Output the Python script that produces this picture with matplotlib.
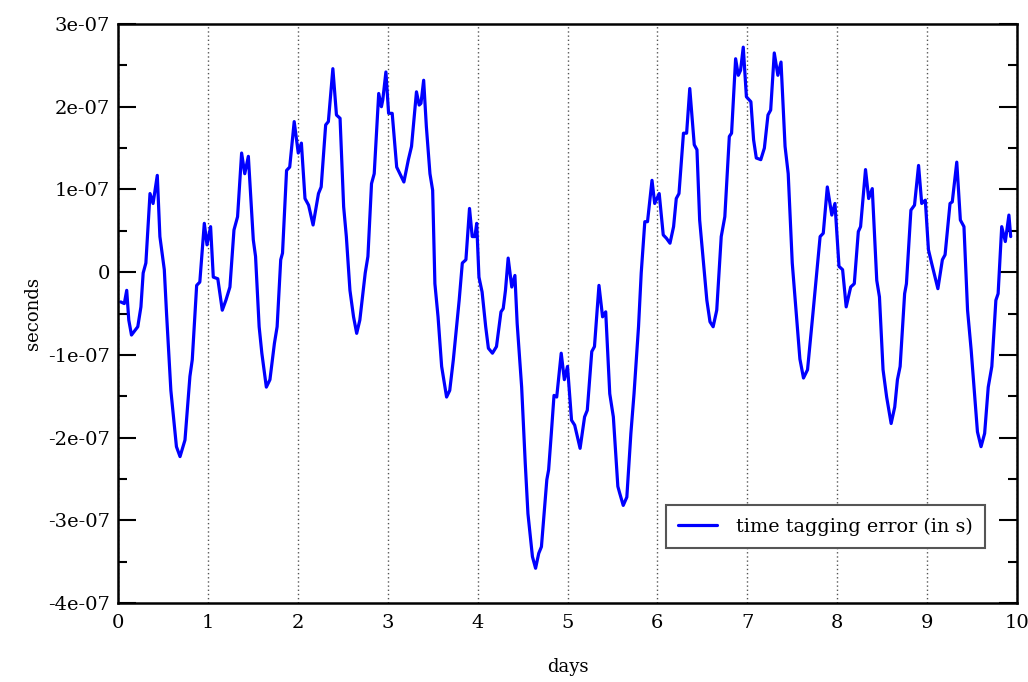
import matplotlib
matplotlib.use("Agg")
import matplotlib.pyplot as plt
from matplotlib.ticker import MultipleLocator

days = [0.03, 0.07, 0.097, 0.12, 0.15, 0.22, 0.255, 0.28, 0.31, 0.356, 0.39, 0.437, 0.466, 0.515, 0.54,
        0.588, 0.65, 0.69, 0.745, 0.80, 0.826, 0.875, 0.91, 0.96, 0.99, 1.03, 1.06, 1.11, 1.16, 1.20,
        1.245, 1.29, 1.33, 1.375, 1.41, 1.45, 1.505, 1.53, 1.57, 1.60, 1.65, 1.69, 1.74, 1.77, 1.81,
        1.83, 1.875, 1.91, 1.96, 2.005, 2.04, 2.08, 2.12, 2.17, 2.23, 2.26, 2.31, 2.34, 2.39, 2.43,
        2.47, 2.51, 2.54, 2.58, 2.62, 2.655, 2.69, 2.75, 2.78, 2.82, 2.85, 2.90, 2.93, 2.945, 2.98,
        3.01, 3.05, 3.10, 3.135, 3.18, 3.23, 3.265, 3.32, 3.35, 3.37, 3.40, 3.43, 3.47, 3.50, 3.525,
        3.56, 3.60, 3.655, 3.69, 3.73, 3.755, 3.795, 3.83, 3.87, 3.91, 3.94, 3.97, 3.99, 4.015, 4.05,
        4.09, 4.12, 4.165, 4.21, 4.26, 4.285, 4.31, 4.34, 4.38, 4.415, 4.44, 4.49, 4.53, 4.56, 4.61,
        4.645, 4.68, 4.71, 4.77, 4.79, 4.82, 4.85, 4.88, 4.93, 4.965, 5.00, 5.045, 5.08, 5.14, 5.19,
        5.22, 5.27, 5.30, 5.35, 5.39, 5.425, 5.47, 5.51, 5.56, 5.58, 5.62, 5.66, 5.705, 5.74, 5.79,
        5.82, 5.86, 5.89, 5.94, 5.97, 6.02, 6.065, 6.10, 6.14, 6.18, 6.21, 6.24, 6.29, 6.325, 6.36,
        6.41, 6.44, 6.47, 6.51, 6.55, 6.585, 6.62, 6.66, 6.71, 6.75, 6.80, 6.825, 6.87, 6.90, 6.925,
        6.955, 6.99, 7.04, 7.07, 7.10, 7.15, 7.19, 7.23, 7.26, 7.30, 7.34, 7.375, 7.42, 7.455, 7.50,
        7.55, 7.585, 7.625, 7.67, 7.73, 7.81, 7.845, 7.89, 7.94, 7.975, 8.02, 8.06, 8.10, 8.15, 8.19,
        8.235, 8.26, 8.315, 8.35, 8.39, 8.44, 8.47, 8.51, 8.55, 8.60, 8.64, 8.67, 8.70, 8.75, 8.77,
        8.82, 8.86, 8.905, 8.94, 8.98, 9.015, 9.05, 9.12, 9.17, 9.20, 9.255, 9.28, 9.33, 9.37, 9.41,
        9.45, 9.49, 9.525, 9.56, 9.60, 9.64, 9.68, 9.72, 9.765, 9.79, 9.83, 9.87, 9.91, 9.93]

# error in units of 1e-7 s
error_e7 = [-0.36, -0.38, -0.22, -0.58, -0.76, -0.66, -0.42, -0.01, 0.11, 0.95, 0.83, 1.17, 0.43, 0.03, -0.50,
            -1.43, -2.11, -2.23, -2.03, -1.26, -1.06, -0.16, -0.12, 0.59, 0.33, 0.55, -0.06, -0.08, -0.46, -0.34,
            -0.18, 0.51, 0.67, 1.44, 1.19, 1.40, 0.39, 0.19, -0.66, -0.98, -1.39, -1.30, -0.86, -0.66, 0.15,
            0.23, 1.23, 1.27, 1.82, 1.44, 1.56, 0.89, 0.81, 0.57, 0.95, 1.03, 1.78, 1.82, 2.46, 1.90,
            1.86, 0.79, 0.43, -0.22, -0.54, -0.74, -0.58, -0.01, 0.19, 1.07, 1.19, 2.16, 2.00, 2.08, 2.42,
            1.92, 1.92, 1.27, 1.19, 1.09, 1.36, 1.52, 2.18, 2.02, 2.04, 2.32, 1.76, 1.19, 0.99, -0.14,
            -0.54, -1.14, -1.51, -1.43, -1.06, -0.78, -0.34, 0.11, 0.15, 0.77, 0.43, 0.43, 0.59, -0.06, -0.24,
            -0.66, -0.92, -0.98, -0.90, -0.48, -0.44, -0.22, 0.17, -0.18, -0.04, -0.62, -1.39, -2.31, -2.92, -3.44,
            -3.58, -3.40, -3.32, -2.51, -2.39, -1.95, -1.49, -1.51, -0.98, -1.30, -1.14, -1.79, -1.85, -2.13, -1.75,
            -1.67, -0.96, -0.90, -0.16, -0.54, -0.48, -1.47, -1.75, -2.59, -2.67, -2.82, -2.72, -1.95, -1.47, -0.66,
            -0.01, 0.61, 0.61, 1.11, 0.83, 0.95, 0.45, 0.41, 0.35, 0.55, 0.89, 0.95, 1.68, 1.68, 2.22,
            1.54, 1.48, 0.63, 0.15, -0.34, -0.60, -0.66, -0.46, 0.43, 0.67, 1.64, 1.68, 2.58, 2.38, 2.44,
            2.72, 2.12, 2.06, 1.60, 1.38, 1.36, 1.50, 1.90, 1.96, 2.65, 2.38, 2.54, 1.52, 1.19, 0.11,
            -0.58, -1.05, -1.28, -1.18, -0.50, 0.43, 0.47, 1.03, 0.69, 0.83, 0.07, 0.03, -0.42, -0.18, -0.14,
            0.49, 0.55, 1.24, 0.89, 1.01, -0.10, -0.30, -1.18, -1.51, -1.83, -1.63, -1.30, -1.14, -0.26, -0.14,
            0.75, 0.81, 1.29, 0.83, 0.87, 0.27, 0.11, -0.20, 0.15, 0.21, 0.83, 0.85, 1.33, 0.63, 0.55,
            -0.46, -0.94, -1.43, -1.93, -2.11, -1.95, -1.39, -1.14, -0.34, -0.26, 0.55, 0.37, 0.69, 0.43]

x_ticks = [0, 1, 2, 3, 4, 5, 6, 7, 8, 9, 10]
y_ticks = [-4e-07, -3e-07, -2e-07, -1e-07, 0, 1e-07, 2e-07, 3e-07]
y_tick_labels = ["-4e-07", "-3e-07", "-2e-07", "-1e-07", "0", "1e-07", "2e-07", "3e-07"]

plt.rcParams['font.family'] = ['DejaVu Serif']

fig = plt.figure(figsize=(10.28, 6.82), dpi=100)
ax = fig.add_axes([118/1028, 1 - 603/682, (1017-118)/1028, (603-24)/682])

values = [v * 1e-7 for v in error_e7]
ax.plot(days, values, color='#0000ff', linewidth=2.3, solid_joinstyle='round',
        solid_capstyle='round', label='time tagging error (in s)')

ax.set_xlim(0, 10)
ax.set_ylim(-4e-07, 3e-07)
ax.set_xticks(x_ticks)
ax.set_xticklabels([str(t) for t in x_ticks])
ax.set_yticks(y_ticks)
ax.set_yticklabels(y_tick_labels)
ax.yaxis.set_minor_locator(MultipleLocator(0.5e-07))

ax.grid(axis='x', which='major', linestyle=(0, (1, 2)), color='#555555', linewidth=1.0)

ax.tick_params(axis='y', which='major', direction='in', length=13, width=1.5, left=True, right=True,
               labelsize=14, pad=6)
ax.tick_params(axis='y', which='minor', direction='in', length=6.5, width=1.5, left=True, right=True)
ax.tick_params(axis='x', which='major', direction='in', length=0, labelsize=14, pad=8)

for s in ax.spines.values():
    s.set_linewidth(1.8)

ax.set_xlabel('days', fontsize=13, labelpad=19)
ax.set_ylabel('seconds', fontsize=13, labelpad=4)

leg = ax.legend(loc='lower right', bbox_to_anchor=(0.9645, 0.095), fontsize=13.8, frameon=True,
                fancybox=False, framealpha=1, edgecolor='#555555', handlelength=2.0,
                borderpad=0.65, handletextpad=1.0, borderaxespad=0.0)
leg.get_frame().set_linewidth(1.5)

fig.savefig('out.png', dpi=100)
